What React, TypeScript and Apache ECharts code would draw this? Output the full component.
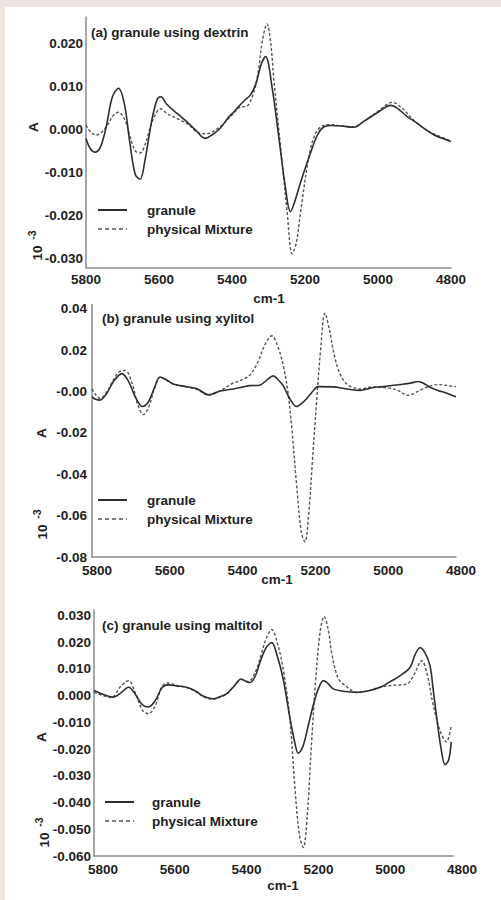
import React, { useEffect, useRef } from 'react';
import * as echarts from 'echarts';

// ---------- data ----------
const xTicks = [5800, 5600, 5400, 5200, 5000, 4800];

const aTickValues = [0.02, 0.01, 0, -0.01, -0.02, -0.03];
const aTickLabels = ['0.020', '0.010', '0.000', '-0.010', '-0.020', '-0.030'];
const bTickValues = [0.04, 0.02, 0, -0.02, -0.04, -0.06, -0.08];
const bTickLabels = ['0.04', '0.02', '-0.00', '-0.02', '-0.04', '-0.06', '-0.08'];
const cTickValues = [0.03, 0.02, 0.01, 0, -0.01, -0.02, -0.03, -0.04, -0.05, -0.06];
const cTickLabels = ['0.030', '0.020', '0.010', '0.000', '-0.010', '-0.020', '-0.030', '-0.040', '-0.050', '-0.060'];

const panelTitles = ['(a) granule using dextrin', '(b) granule using xylitol', '(c) granule using maltitol'];
const seriesNames = ['granule', 'physical Mixture'];
const xAxisName = 'cm-1';
const yAxisName = 'A';

const aGranule = [
  [5800, -0.0021], [5788, -0.0045], [5775, -0.0053], [5760, -0.004], [5745, 0.0005], [5728, 0.0075],
  [5711, 0.0096], [5695, 0.006], [5680, -0.003], [5665, -0.0105], [5652, -0.0116], [5638, -0.007],
  [5620, 0.002], [5605, 0.007], [5595, 0.0076], [5580, 0.006], [5560, 0.0044], [5540, 0.003],
  [5524, 0.0018], [5497, -0.0004], [5474, -0.0021], [5455, -0.0013], [5433, 0.0002], [5410, 0.0028],
  [5396, 0.004], [5380, 0.0055], [5365, 0.0068], [5350, 0.008], [5335, 0.0105], [5320, 0.0152],
  [5308, 0.017], [5290, 0.0097], [5272, -0.0017], [5253, -0.0139], [5240, -0.0192], [5228, -0.0168],
  [5212, -0.0123], [5185, -0.0055], [5166, -0.0013], [5150, 0.0005], [5130, 0.0009], [5100, 0.0008],
  [5066, 0.0005], [5040, 0.0018], [5000, 0.004], [4965, 0.0056], [4945, 0.0048], [4920, 0.003],
  [4892, 0.0014], [4870, 0.0], [4846, -0.0013], [4820, -0.0022], [4800, -0.0028],
];
const aMixture = [
  [5800, 0.001], [5785, -0.0008], [5771, -0.0013], [5755, -0.0005], [5740, 0.0012], [5725, 0.0033],
  [5711, 0.004], [5695, 0.0025], [5680, -0.0015], [5665, -0.005], [5652, -0.0055], [5638, -0.0035],
  [5620, 0.0015], [5605, 0.0042], [5595, 0.0048], [5580, 0.0038], [5560, 0.0029], [5524, 0.0014],
  [5488, -0.0009], [5470, -0.001], [5433, 0.0006], [5410, 0.0025], [5396, 0.0037], [5378, 0.0052],
  [5360, 0.0054], [5345, 0.0075], [5330, 0.0125], [5316, 0.021], [5304, 0.0246], [5295, 0.021],
  [5285, 0.0113], [5267, -0.004], [5249, -0.0192], [5235, -0.029], [5224, -0.0265], [5212, -0.0192],
  [5189, -0.0062], [5171, -0.0009], [5150, 0.0009], [5130, 0.0011], [5100, 0.0008], [5066, 0.0006],
  [5040, 0.0018], [5000, 0.0042], [4960, 0.0063], [4935, 0.005], [4900, 0.002], [4870, 0.0],
  [4846, -0.0011], [4820, -0.002], [4800, -0.0028],
];

const bGranule = [
  [5800, -0.0026], [5790, -0.0038], [5778, -0.0042], [5760, -0.001], [5740, 0.005], [5718, 0.0086],
  [5700, 0.005], [5680, -0.003], [5661, -0.0073], [5645, -0.005], [5628, 0.002], [5613, 0.007],
  [5595, 0.0055], [5577, 0.0036], [5540, 0.0023], [5510, 0.0012], [5480, -0.0016], [5448, 0.0002],
  [5412, 0.0012], [5385, 0.0022], [5366, 0.0028], [5340, 0.003], [5320, 0.0055], [5302, 0.0075],
  [5288, 0.0055], [5275, 0.0028], [5255, -0.004], [5238, -0.0073], [5222, -0.0055], [5206, -0.0026],
  [5190, 0.0008], [5179, 0.0023], [5140, 0.0022], [5100, 0.0012], [5064, 0.0005], [5030, 0.0018],
  [5000, 0.0023], [4954, 0.0033], [4925, 0.004], [4904, 0.0048], [4885, 0.0035], [4871, 0.002],
  [4850, 0.0005], [4835, -0.0003], [4820, -0.0012], [4800, -0.0026],
];
const bMixture = [
  [5800, 0.0012], [5790, -0.0015], [5778, -0.0034], [5760, -0.0005], [5740, 0.006], [5725, 0.0095],
  [5709, 0.0101], [5690, 0.004], [5675, -0.006], [5659, -0.0112], [5645, -0.008], [5628, 0.0015],
  [5613, 0.0068], [5595, 0.0055], [5577, 0.0036], [5540, 0.0022], [5510, 0.0008], [5480, -0.0019],
  [5448, 0.0003], [5417, 0.0036], [5390, 0.0055], [5366, 0.0079], [5345, 0.014], [5325, 0.0225],
  [5306, 0.0269], [5290, 0.022], [5275, 0.0129], [5262, 0.0], [5250, -0.02], [5238, -0.045],
  [5225, -0.068], [5215, -0.0727], [5205, -0.06], [5195, -0.035], [5183, -0.005], [5172, 0.02],
  [5160, 0.0378], [5148, 0.03], [5135, 0.018], [5120, 0.009], [5100, 0.0036], [5064, 0.0012],
  [5030, 0.0022], [4990, 0.0018], [4960, 0.0005], [4932, -0.0019], [4905, 0.0], [4881, 0.002],
  [4850, 0.0033], [4820, 0.0028], [4800, 0.0023],
];

const cGranule = [
  [5800, 0.0019], [5775, 0.0005], [5746, -0.0006], [5725, 0.001], [5704, 0.0031], [5685, 0.0005],
  [5665, -0.0035], [5649, -0.0043], [5630, -0.002], [5610, 0.003], [5593, 0.004], [5570, 0.0036],
  [5542, 0.0031], [5515, 0.0015], [5496, -0.0002], [5468, -0.0012], [5450, -0.0005], [5431, 0.0006],
  [5410, 0.0035], [5390, 0.0062], [5375, 0.0052], [5365, 0.0049], [5350, 0.0075], [5338, 0.0123],
  [5320, 0.018], [5305, 0.0198], [5290, 0.015], [5273, 0.0062], [5254, -0.0086], [5240, -0.018],
  [5231, -0.0216], [5218, -0.019], [5203, -0.0111], [5188, -0.003], [5175, 0.0025], [5161, 0.0056],
  [5148, 0.0045], [5133, 0.0025], [5100, 0.0015], [5068, 0.0012], [5035, 0.0018], [5003, 0.0031],
  [4975, 0.0052], [4948, 0.0074], [4920, 0.0105], [4905, 0.0155], [4892, 0.0179], [4878, 0.016],
  [4864, 0.0111], [4855, 0.002], [4845, -0.0086], [4833, -0.02], [4822, -0.0259], [4812, -0.024],
  [4805, -0.0173],
];
const cMixture = [
  [5800, 0.0012], [5775, 0.0], [5752, -0.0007], [5725, 0.0035], [5704, 0.0056], [5685, 0.001],
  [5665, -0.0055], [5649, -0.0068], [5630, -0.004], [5610, 0.0035], [5593, 0.0047], [5570, 0.0038],
  [5542, 0.003], [5515, 0.0013], [5496, -0.0004], [5468, -0.0014], [5450, -0.0006], [5431, 0.0005],
  [5410, 0.0035], [5390, 0.006], [5370, 0.0053], [5350, 0.009], [5335, 0.015], [5320, 0.0215],
  [5305, 0.0247], [5290, 0.02], [5273, 0.0099], [5255, -0.008], [5240, -0.035], [5228, -0.052],
  [5217, -0.0568], [5206, -0.045], [5195, -0.02], [5183, 0.005], [5170, 0.024], [5159, 0.0296],
  [5148, 0.025], [5138, 0.016], [5120, 0.0065], [5100, 0.0037], [5068, 0.0012], [5035, 0.0018],
  [5003, 0.0031], [4970, 0.0038], [4929, 0.0043], [4910, 0.0075], [4887, 0.013], [4872, 0.008],
  [4855, -0.0037], [4835, -0.0135], [4818, -0.0173], [4805, -0.0111],
];

// ---------- layout / style ----------
const FONT = '"Liberation Sans", Arial, sans-serif';
const FS = 13.5;
const TEXT = '#1e1e1e';

const panels = [
  {
    grid: { left: 86, top: 17, width: 365, height: 251 },
    yMin: -0.0323, yMax: 0.0262, ticks: aTickValues, labels: aTickLabels,
    yMargin: 3, xMargin: 4, xShift: 0,
    series: [aGranule, aMixture],
    title: [91, 32], legend: [98, 210, 147], cm: [269, 298], A: [33, 127], exp: [[37, 253], [32, 235]],
  },
  {
    grid: { left: 92, top: 304.5, width: 364, height: 252.5 },
    yMin: -0.08, yMax: 0.042, ticks: bTickValues, labels: bTickLabels,
    yMargin: 5, xMargin: 6, xShift: 5,
    series: [bGranule, bMixture],
    title: [102, 318], legend: [98, 500, 147], cm: [277, 579], A: [41, 433], exp: [[42, 532], [37, 514]],
  },
  {
    grid: { left: 94, top: 610, width: 359, height: 246 },
    yMin: -0.06, yMax: 0.032, ticks: cTickValues, labels: cTickLabels,
    yMargin: 3, xMargin: 6, xShift: 9,
    series: [cGranule, cMixture],
    title: [102, 625], legend: [105, 802, 152], cm: [283, 885], A: [41, 737], exp: [[44, 840], [39, 822]],
  },
];

const lineStyles = [
  { color: '#2e2e2e', width: 1.6, type: 'solid' },
  { color: '#555555', width: 1.4, type: [3, 2] },
];
const LEGEND_PITCH = 19;
const LEGEND_LINE = 29;

export default function App() {
  const ref = useRef<HTMLDivElement>(null);

  useEffect(() => {
    document.body.style.margin = '0';
    if (!ref.current) return;
    const chart = echarts.init(ref.current, undefined, { renderer: 'svg' });

    const textStyle = { fontFamily: FONT, fontSize: FS, fontWeight: 'bold', color: TEXT };
    const gText = (text: string, x: number, y: number, align: string, opts: any = {}) => ({
      type: 'text', x, y, rotation: opts.rotation || 0,
      style: {
        text, fontFamily: FONT, fontSize: opts.fontSize || FS, fontWeight: 'bold', fill: TEXT,
        align, verticalAlign: 'middle',
      },
    });

    const grid = panels.map((p) => ({ ...p.grid, containLabel: false }));
    const xAxis = panels.map((p, i) => ({
      type: 'value',
      gridIndex: i,
      min: 4800,
      max: 5800,
      interval: 200,
      inverse: true,
      axisLine: { show: true, onZero: false, lineStyle: { color: '#8a8a8a', width: 1.5 } },
      axisTick: { show: false },
      splitLine: { show: false },
      axisLabel: {
        ...textStyle,
        margin: p.xMargin,
        padding: [0, 0, 0, p.xShift * 2],
        customValues: xTicks,
        formatter: (v: number) => String(Math.round(v)),
      },
    }));
    const yAxis = panels.map((p, i) => ({
      type: 'value',
      gridIndex: i,
      min: p.yMin,
      max: p.yMax,
      axisLine: { show: true, onZero: false, lineStyle: { color: '#8a8a8a', width: 1.5 } },
      axisTick: { show: false },
      splitLine: { show: false },
      axisLabel: {
        ...textStyle,
        margin: p.yMargin,
        customValues: p.ticks,
        formatter: (v: number) => {
          const k = p.ticks.findIndex((t) => Math.abs(t - v) < 1e-9);
          return k >= 0 ? p.labels[k] : '';
        },
      },
    }));

    const series: any[] = [];
    panels.forEach((p, i) => {
      p.series.forEach((data, j) => {
        series.push({
          type: 'line',
          name: seriesNames[j],
          xAxisIndex: i,
          yAxisIndex: i,
          data,
          symbol: 'none',
          showSymbol: false,
          smooth: 0.35,
          itemStyle: { color: lineStyles[j].color },
          lineStyle: lineStyles[j],
          z: j === 0 ? 3 : 2,
        });
      });
    });

    const graphic: any[] = [];
    panels.forEach((p, i) => {
      graphic.push(gText(panelTitles[i], p.title[0], p.title[1], 'left'));
      graphic.push(gText(xAxisName, p.cm[0], p.cm[1], 'center'));
      graphic.push(gText(yAxisName, p.A[0], p.A[1], 'center', { rotation: Math.PI / 2 }));
      graphic.push(gText('10', p.exp[0][0], p.exp[0][1], 'center', { rotation: Math.PI / 2 }));
      graphic.push(gText('-3', p.exp[1][0], p.exp[1][1], 'center', { rotation: Math.PI / 2, fontSize: 10.5 }));
      seriesNames.forEach((name, j) => {
        const y = p.legend[1] + j * LEGEND_PITCH;
        graphic.push({
          type: 'line',
          shape: { x1: p.legend[0], y1: y, x2: p.legend[0] + LEGEND_LINE, y2: y },
          style: {
            stroke: lineStyles[j].color,
            lineWidth: j === 0 ? 2 : 1.6,
            lineDash: j === 0 ? null : [4, 3],
          },
        });
        graphic.push(gText(name, p.legend[2], y, 'left'));
      });
    });

    chart.setOption({
      animation: false,
      backgroundColor: 'transparent',
      grid,
      xAxis,
      yAxis,
      series,
      graphic,
    });

    return () => chart.dispose();
  }, []);

  return (
    <div style={{ position: 'relative', width: 501, height: 900, background: '#efe4e0', overflow: 'hidden' }}>
      <div style={{ position: 'absolute', left: 5, top: 7, right: 0, bottom: 0, background: '#ffffff' }} />
      <div ref={ref} style={{ position: 'absolute', left: 0, top: 0, width: 501, height: 900 }} />
    </div>
  );
}
